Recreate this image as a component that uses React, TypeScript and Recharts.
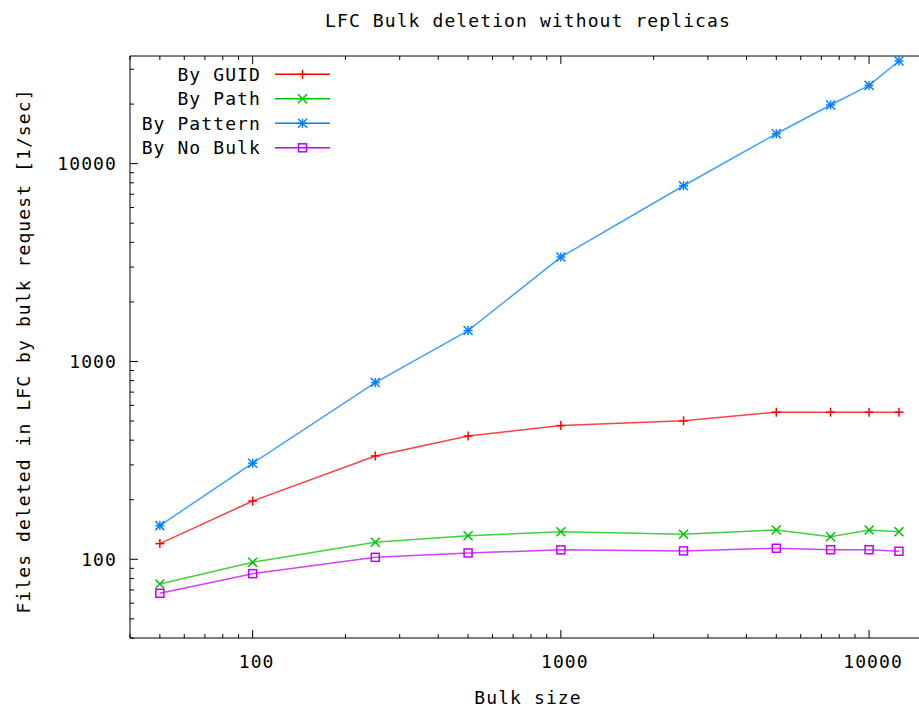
import React from 'react';
import { LineChart, Line, XAxis, YAxis } from 'recharts';

const bulkSizes = [50, 100, 250, 500, 1000, 2500, 5000, 7500, 10000, 12500];
const byGuid = [120, 197, 333, 420, 474, 501, 554, 554, 554, 554];
const byPath = [75, 96.6, 122, 131.6, 137.8, 133.8, 140.7, 130, 140.7, 137.9];
const byPattern = [148, 306, 782, 1433, 3371, 7730, 14160, 19790, 24860, 33030];
const byNoBulk = [67.3, 84.6, 102.3, 107.6, 111.6, 110.2, 113.7, 111.8, 111.8, 109.8];

const xTicks = [
    40, 50, 60, 70, 80, 90, 100, 200, 300, 400, 500, 600, 700, 800, 900,
    1000, 2000, 3000, 4000, 5000, 6000, 7000, 8000, 9000, 10000,
];
const yTicks = [
    40, 50, 60, 70, 80, 90, 100, 200, 300, 400, 500, 600, 700, 800, 900,
    1000, 2000, 3000, 4000, 5000, 6000, 7000, 8000, 9000, 10000, 20000, 30000,
];
const majorTicks = [100, 1000, 10000];

const series = [
    { key: 'guid', name: 'By GUID', color: '#ff0000', shape: 'plus' },
    { key: 'path', name: 'By Path', color: '#00c000', shape: 'cross' },
    { key: 'pattern', name: 'By Pattern', color: '#0080ff', shape: 'star' },
    { key: 'nobulk', name: 'By No Bulk', color: '#c000ff', shape: 'square' },
];

const data = bulkSizes.map((size, i) => ({
    size,
    guid: byGuid[i],
    path: byPath[i],
    pattern: byPattern[i],
    nobulk: byNoBulk[i],
}));

const FONT = '"DejaVu Sans Mono", monospace';

function Marker({ cx, cy, shape, color }: any) {
    const r = 4.5;
    const plus = (
        <g>
            <line x1={cx - r} x2={cx + r} y1={cy} y2={cy} />
            <line x1={cx} x2={cx} y1={cy - r} y2={cy + r} />
        </g>
    );
    const cross = (
        <g>
            <line x1={cx - r} x2={cx + r} y1={cy - r} y2={cy + r} />
            <line x1={cx - r} x2={cx + r} y1={cy + r} y2={cy - r} />
        </g>
    );
    return (
        <g stroke={color} strokeWidth={1.5} fill="none">
            {shape === 'plus' && plus}
            {shape === 'cross' && cross}
            {shape === 'star' && (
                <g>
                    {plus}
                    {cross}
                </g>
            )}
            {shape === 'square' && <rect x={cx - 4} y={cy - 4} width={8} height={8} />}
        </g>
    );
}

function XTick({ x, y, payload, top }: any) {
    const major = majorTicks.includes(payload.value);
    const len = major ? 8 : 4;
    return (
        <g>
            <line x1={x} x2={x} y1={y} y2={top ? y + len : y - len} stroke="#000" />
            {!top && major && (
                <text x={x + 4} y={y + 30} textAnchor="middle" fontFamily={FONT} fontSize={18} letterSpacing={1.1} fill="#000">
                    {payload.value}
                </text>
            )}
        </g>
    );
}

function YTick({ x, y, payload, right }: any) {
    const major = majorTicks.includes(payload.value);
    const len = major ? 8 : 4;
    return (
        <g>
            <line x1={x} x2={right ? x - len : x + len} y1={y} y2={y} stroke="#000" />
            {!right && major && (
                <text x={117} y={y + 6.5} textAnchor="end" fontFamily={FONT} fontSize={18} letterSpacing={1.1} fill="#000">
                    {payload.value}
                </text>
            )}
        </g>
    );
}

const axisCommon = {
    type: 'number' as const,
    scale: 'log' as const,
    allowDataOverflow: true,
    interval: 0,
    tickSize: 0,
    tickMargin: 0,
    tickLine: false,
    axisLine: { stroke: '#000' },
};

export default function App() {
    return (
        <div style={{ position: 'absolute', left: 0, top: 0, width: 919, height: 709, overflow: 'hidden', background: '#fff' }}>
            <LineChart width={933} height={709} data={data} margin={{ top: 55, right: 0, bottom: 70, left: 129 }}>
                <XAxis
                    {...axisCommon}
                    xAxisId="b"
                    dataKey="size"
                    domain={[40, 16000]}
                    ticks={xTicks}
                    height={1}
                    tick={<XTick />}
                />
                <XAxis
                    {...axisCommon}
                    xAxisId="t"
                    orientation="top"
                    dataKey="size"
                    domain={[40, 16000]}
                    ticks={xTicks}
                    height={1}
                    tick={<XTick top />}
                />
                <YAxis
                    {...axisCommon}
                    yAxisId="l"
                    domain={[40, 35000]}
                    ticks={yTicks}
                    width={1}
                    tick={<YTick />}
                />
                <YAxis
                    {...axisCommon}
                    yAxisId="r"
                    orientation="right"
                    domain={[40, 35000]}
                    ticks={yTicks}
                    width={1}
                    tick={<YTick right />}
                />
                {series.map((s) => (
                    <Line
                        key={s.key}
                        xAxisId="b"
                        yAxisId="l"
                        type="linear"
                        dataKey={s.key}
                        stroke={s.color}
                        strokeWidth={1.5}
                        strokeOpacity={0.75}
                        isAnimationActive={false}
                        activeDot={false}
                        dot={(p: any) => <Marker key={`${s.key}-${p.index}`} cx={p.cx} cy={p.cy} shape={s.shape} color={s.color} />}
                    />
                ))}
            </LineChart>
            <svg width={919} height={709} style={{ position: 'absolute', left: 0, top: 0, pointerEvents: 'none' }}>
                <text x={528} y={27} textAnchor="middle" fontFamily={FONT} fontSize={18} letterSpacing={1.1} fill="#000">
                    LFC Bulk deletion without replicas
                </text>
                <text x={528} y={704} textAnchor="middle" fontFamily={FONT} fontSize={18} letterSpacing={1.1} fill="#000">
                    Bulk size
                </text>
                <text
                    transform="translate(30,351) rotate(-90)"
                    textAnchor="middle"
                    fontFamily={FONT}
                    fontSize={18}
                    letterSpacing={1.1}
                    fill="#000"
                >
                    Files deleted in LFC by bulk request [1/sec]
                </text>
                {series.map((s, i) => {
                    const cy = 74.3 + i * 24.5;
                    return (
                        <g key={s.key}>
                            <text x={261} y={cy + 6.5} textAnchor="end" fontFamily={FONT} fontSize={18} letterSpacing={1.1} fill="#000">
                                {s.name}
                            </text>
                            <line x1={275} x2={330} y1={cy} y2={cy} stroke={s.color} strokeWidth={1.5} />
                            <Marker cx={302.5} cy={cy} shape={s.shape} color={s.color} />
                        </g>
                    );
                })}
            </svg>
        </div>
    );
}
